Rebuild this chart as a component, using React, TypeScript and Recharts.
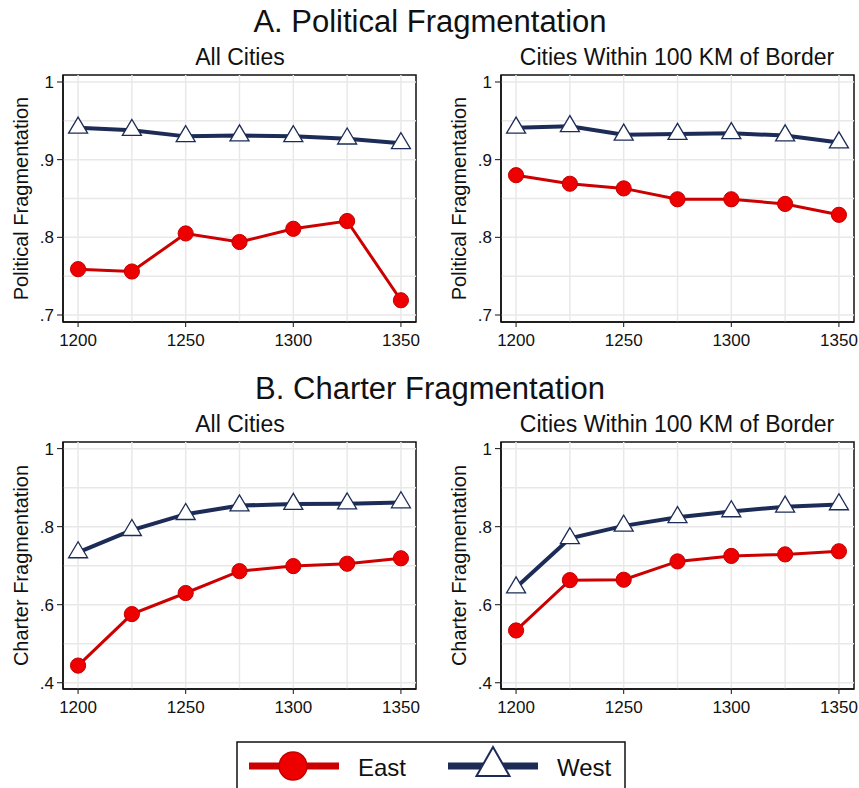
import React from "react";
import {
  LineChart,
  Line,
  XAxis,
  YAxis,
  ReferenceLine,
  ReferenceArea,
} from "recharts";

const FONT = "'Liberation Sans', Arial, Helvetica, sans-serif";
const RED = "#cc0000";
const RED_FILL = "#ee0000";
const NAVY = "#1d2c57";

const years = [1200, 1225, 1250, 1275, 1300, 1325, 1350];
const xTicks = [1200, 1250, 1300, 1350];

// panel A values
const polAllEast = [0.759, 0.756, 0.805, 0.794, 0.811, 0.821, 0.719];
const polAllWest = [0.941, 0.938, 0.93, 0.931, 0.93, 0.927, 0.921];
const polBorderEast = [0.88, 0.869, 0.863, 0.849, 0.849, 0.843, 0.829];
const polBorderWest = [0.941, 0.943, 0.932, 0.933, 0.934, 0.931, 0.922];

// panel B values
const chAllEast = [0.444, 0.576, 0.63, 0.686, 0.699, 0.705, 0.719];
const chAllWest = [0.734, 0.791, 0.832, 0.854, 0.858, 0.859, 0.862];
const chBorderEast = [0.534, 0.663, 0.664, 0.711, 0.725, 0.729, 0.737];
const chBorderWest = [0.644, 0.77, 0.802, 0.824, 0.839, 0.851, 0.857];

const polTicks = [0.7, 0.8, 0.9, 1];
const polGrid = [0.7, 0.75, 0.8, 0.85, 0.9, 0.95, 1];
const chTicks = [0.4, 0.6, 0.8, 1];
const chGrid = [0.4, 0.5, 0.6, 0.7, 0.8, 0.9, 1];

const legendItems = ["East", "West"];

const fmtY = (v: number) => (v === 1 ? "1" : v.toFixed(1).replace(/^0/, ""));

const Triangle = (props: any) => {
  const { cx, cy, index } = props;
  if (cx == null || cy == null) return <g key={`t-${index}`} />;
  return (
    <polygon
      key={`t-${index}`}
      points={`${cx},${cy - 10.7} ${cx - 9.5},${cy + 5.3} ${cx + 9.5},${cy + 5.3}`}
      fill="#fff"
      stroke={NAVY}
      strokeWidth={1.3}
    />
  );
};

interface PanelProps {
  left: number;
  top: number;
  east: number[];
  west: number[];
  yLabel: string;
  yDomain: [number, number];
  yTicks: number[];
  yGrid: number[];
}

const Panel: React.FC<PanelProps> = ({
  left,
  top,
  east,
  west,
  yLabel,
  yDomain,
  yTicks,
  yGrid,
}) => {
  const data = years.map((year, i) => ({ year, east: east[i], west: west[i] }));
  const xDomain: [number, number] = [1193, 1357];
  const tickStyle = { fontSize: 17, fill: "#111", fontFamily: FONT };

  return (
    <div style={{ position: "absolute", left, top }}>
      <LineChart
        width={430}
        height={300}
        data={data}
        margin={{ top: 15, right: 14, bottom: 8, left: 0 }}
      >
        {years.map((y) => (
          <ReferenceLine key={`vx-${y}`} x={y} stroke="#e8e8e8" strokeWidth={1.5} />
        ))}
        {yGrid.map((y) => (
          <ReferenceLine key={`hy-${y}`} y={y} stroke="#e8e8e8" strokeWidth={1.5} />
        ))}
        <XAxis
          dataKey="year"
          type="number"
          domain={xDomain}
          ticks={xTicks}
          allowDataOverflow
          height={30}
          tickSize={5}
          tickMargin={7}
          tick={tickStyle}
          axisLine={{ stroke: "#111", strokeWidth: 1.5 }}
          tickLine={{ stroke: "#111" }}
        />
        <YAxis
          type="number"
          domain={yDomain}
          ticks={yTicks}
          allowDataOverflow
          width={63}
          tickSize={6}
          tickMargin={3}
          tickFormatter={fmtY}
          tick={tickStyle}
          axisLine={{ stroke: "#111", strokeWidth: 1.5 }}
          tickLine={{ stroke: "#111" }}
          label={{
            value: yLabel,
            angle: -90,
            position: "center",
            dx: -11,
            style: { fontSize: 20, fill: "#111", fontFamily: FONT },
          }}
        />
        <ReferenceArea
          x1={xDomain[0]}
          x2={xDomain[1]}
          y1={yDomain[0]}
          y2={yDomain[1]}
          fill="none"
          stroke="#111"
          strokeWidth={1.5}
          ifOverflow="visible"
        />
        <Line
          dataKey="east"
          stroke={RED}
          strokeWidth={3}
          dot={{ r: 7.6, fill: RED_FILL, stroke: "#c40000", strokeWidth: 1 }}
          isAnimationActive={false}
        />
        <Line
          dataKey="west"
          stroke={NAVY}
          strokeWidth={4}
          dot={Triangle}
          isAnimationActive={false}
        />
      </LineChart>
    </div>
  );
};

const App: React.FC = () => {
  const polDomain: [number, number] = [0.691, 1.009];
  const chDomain: [number, number] = [0.384, 1.017];

  return (
    <div
      style={{
        position: "absolute",
        left: 0,
        top: 0,
        width: 859,
        height: 788,
        background: "#fff",
        overflow: "hidden",
        fontFamily: FONT,
      }}
    >
      <Panel left={0} top={60} east={polAllEast} west={polAllWest}
        yLabel="Political Fragmentation" yDomain={polDomain} yTicks={polTicks} yGrid={polGrid} />
      <Panel left={438} top={60} east={polBorderEast} west={polBorderWest}
        yLabel="Political Fragmentation" yDomain={polDomain} yTicks={polTicks} yGrid={polGrid} />
      <Panel left={0} top={427} east={chAllEast} west={chAllWest}
        yLabel="Charter Fragmentation" yDomain={chDomain} yTicks={chTicks} yGrid={chGrid} />
      <Panel left={438} top={427} east={chBorderEast} west={chBorderWest}
        yLabel="Charter Fragmentation" yDomain={chDomain} yTicks={chTicks} yGrid={chGrid} />

      <svg
        width={859}
        height={788}
        style={{ position: "absolute", left: 0, top: 0, pointerEvents: "none" }}
      >
        <g fontFamily={FONT} fill="#111" textAnchor="middle">
          <text x={430} y={32} fontSize={31}>A. Political Fragmentation</text>
          <text x={240} y={65} fontSize={23}>All Cities</text>
          <text x={677} y={65} fontSize={23}>Cities Within 100 KM of Border</text>
          <text x={430} y={399} fontSize={31}>B. Charter Fragmentation</text>
          <text x={240} y={432} fontSize={23}>All Cities</text>
          <text x={677} y={432} fontSize={23}>Cities Within 100 KM of Border</text>
        </g>

        <rect x={237} y={742} width={388} height={60} fill="#fff" stroke="#111" strokeWidth={1.5} />
        <line x1={249} y1={766} x2={339} y2={766} stroke={RED} strokeWidth={7} />
        <circle cx={293} cy={766} r={14} fill={RED_FILL} stroke="#c40000" strokeWidth={1.5} />
        <text x={358} y={767} fontSize={24} fontFamily={FONT} fill="#111" dominantBaseline="central">
          {legendItems[0]}
        </text>
        <line x1={448} y1={766} x2={538} y2={766} stroke={NAVY} strokeWidth={7} />
        <polygon points="493,747 476.5,776 509.5,776" fill="#fff" stroke={NAVY} strokeWidth={2} />
        <text x={557} y={767} fontSize={24} fontFamily={FONT} fill="#111" dominantBaseline="central">
          {legendItems[1]}
        </text>
      </svg>
    </div>
  );
};

export default App;
